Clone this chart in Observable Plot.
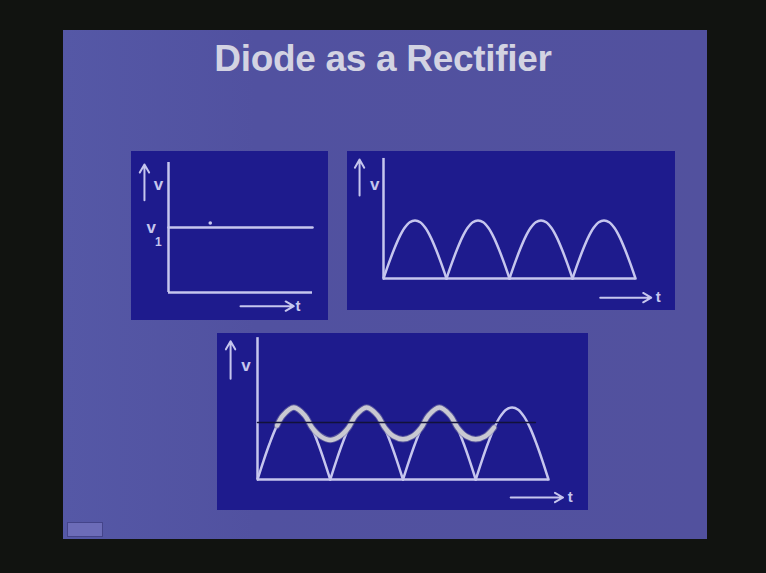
<!DOCTYPE html>
<html>
<head>
<meta charset="utf-8">
<script src="https://cdn.jsdelivr.net/npm/d3@7"></script>
<script src="https://cdn.jsdelivr.net/npm/@observablehq/plot@0.6"></script>
<style>
  html, body { margin: 0; padding: 0; background: #111310; }
  #stage { position: relative; width: 766px; height: 573px; background: #111310; overflow: hidden; font-family: "Liberation Sans", Arial, sans-serif; }
  #slide { position: absolute; left: 63px; top: 30px; width: 644px; height: 509px; background: linear-gradient(90deg, #5558a6 0%, #5151a0 30%, #52519e 100%); }
  #title { position: absolute; left: 0; width: 766px; top: 38px; text-align: center; font-weight: bold; font-size: 37px; color: #d3d3e2; letter-spacing: -0.3px; }
  .panel { position: absolute; }
  .panel svg { display: block; }
  #icon { position: absolute; left: 67px; top: 522px; width: 36px; height: 15px; background: #6c6cb8; border: 1px solid #44448a; box-sizing: border-box; }
</style>
</head>
<body>
<div id="stage">
  <div id="slide"></div>
  <div id="title">Diode as a Rectifier</div>
  <div id="p1" class="panel" style="left:131px;top:151px"></div>
  <div id="p2" class="panel" style="left:347px;top:151px"></div>
  <div id="p3" class="panel" style="left:217px;top:333px"></div>
  <div id="icon"></div>
</div>
<script>
// ---- data ----
// one rectified half-cycle, sampled at 1/12 steps of its width (value relative to peak)
const humpPhase = [0, 1/12, 2/12, 3/12, 4/12, 5/12, 6/12, 7/12, 8/12, 9/12, 10/12, 11/12, 1];
const humpShape = [0, 0.26, 0.5, 0.71, 0.87, 0.97, 1, 0.97, 0.87, 0.71, 0.5, 0.26, 0];
const halfCycles = [0, 1, 2, 3];
// constant DC level v1 (panel 1)
const dcT = [0, 1];
const dcV = [1, 1];
// filtered (capacitor) output with ripple (panel 3)
const rippleT = [0.27, 0.35, 0.5, 0.65, 0.75, 0.87, 1.0, 1.13, 1.25, 1.35, 1.5, 1.65, 1.75, 1.87, 2.0, 2.13, 2.25, 2.35, 2.5, 2.65, 2.75, 2.87, 3.0, 3.13, 3.25];
const rippleV = [0.75, 0.89, 1.0, 0.89, 0.72, 0.6, 0.55, 0.6, 0.72, 0.89, 1.0, 0.89, 0.72, 0.6, 0.56, 0.6, 0.72, 0.89, 1.0, 0.89, 0.72, 0.6, 0.56, 0.6, 0.72];
// average output level (dark line, panel 3)
const avgT = [0, 3.82];
const avgV = [0.79, 0.79];

// ---- tables ----
const humps = halfCycles.flatMap(k => humpPhase.map((p, i) => ({t: k + p, v: humpShape[i], k})));
const dc = dcT.map((t, i) => ({t, v: dcV[i]}));
const ripple = rippleT.map((t, i) => ({t, v: rippleV[i]}));
const avg = avgT.map((t, i) => ({t, v: avgV[i]}));

const LINE = "#c6c6ee";
const PANEL = "#1e1b8d";
const FONT = "Liberation Sans, Arial, sans-serif";

function axesMarks(o) {
  return [
    Plot.ruleX([0], {y1: 0, y2: o.yTop, stroke: LINE, strokeWidth: 2.5}),
    Plot.ruleY([0], {x1: 0, x2: o.xEnd, stroke: LINE, strokeWidth: 2.5}),
    Plot.arrow([0], {x1: o.vx, x2: o.vx, y1: o.vy1, y2: o.vy2, stroke: LINE, strokeWidth: 2, headLength: 7}),
    Plot.text(["v"], {x: o.vtx, y: o.vty, fill: LINE, fontSize: 17, fontWeight: "bold", fontFamily: FONT}),
    Plot.arrow([0], {x1: o.tx1, x2: o.tx2, y1: o.ty, y2: o.ty, stroke: LINE, strokeWidth: 2, headLength: 7}),
    Plot.text(["t"], {x: o.ttx, y: o.ty, fill: LINE, fontSize: 15, fontWeight: "bold", fontFamily: FONT})
  ];
}

// Panel 1: DC voltage v1
const p1 = Plot.plot({
  width: 197, height: 169, margin: 0,
  style: {background: PANEL, overflow: "visible"},
  x: {domain: [0, 1], range: [37, 181], axis: null},
  y: {domain: [0, 1], range: [141, 76], axis: null},
  marks: [
    ...axesMarks({yTop: 2.0, xEnd: 1, vx: -0.167, vy1: 1.42, vy2: 1.97, vtx: -0.07, vty: 1.66, tx1: 0.5, tx2: 0.87, ty: -0.21, ttx: 0.9}),
    Plot.line(dc, {x: "t", y: "v", stroke: LINE, strokeWidth: 2.5}),
    Plot.text(["v"], {x: -0.12, y: 1.0, fill: LINE, fontSize: 17, fontWeight: "bold", fontFamily: FONT}),
    Plot.text(["1"], {x: -0.07, y: 0.78, fill: LINE, fontSize: 12, fontWeight: "bold", fontFamily: FONT}),
    Plot.dot([0], {x: 0.29, y: 1.07, r: 1.8, fill: LINE})
  ]
});
document.getElementById("p1").append(p1);

// Panel 2: full-wave rectified output
const p2 = Plot.plot({
  width: 328, height: 159, margin: 0,
  style: {background: PANEL, overflow: "visible"},
  x: {domain: [0, 4], range: [36, 288], axis: null},
  y: {domain: [0, 1], range: [127, 69], axis: null},
  marks: [
    ...axesMarks({yTop: 2.07, xEnd: 4, vx: -0.38, vy1: 1.43, vy2: 2.05, vtx: -0.14, vty: 1.62, tx1: 3.44, tx2: 4.25, ty: -0.33, ttx: 4.36}),
    Plot.line(humps, {x: "t", y: "v", z: "k", stroke: LINE, strokeWidth: 2.5, curve: "catmull-rom"})
  ]
});
document.getElementById("p2").append(p2);

// Panel 3: rectified output with smoothing capacitor
const p3 = Plot.plot({
  width: 371, height: 177, margin: 0,
  style: {background: PANEL, overflow: "visible"},
  x: {domain: [0, 4], range: [40, 331], axis: null},
  y: {domain: [0, 1], range: [146, 74], axis: null},
  marks: [
    ...axesMarks({yTop: 1.97, xEnd: 4, vx: -0.37, vy1: 1.40, vy2: 1.92, vtx: -0.16, vty: 1.58, tx1: 3.48, tx2: 4.2, ty: -0.25, ttx: 4.3}),
    Plot.line(humps, {x: "t", y: "v", z: "k", stroke: LINE, strokeWidth: 2.5, curve: "catmull-rom"}),
    Plot.line(ripple, {x: "t", y: "v", stroke: "#7f7fa8", strokeWidth: 6.5, strokeOpacity: 0.6, curve: "catmull-rom"}),
    Plot.line(ripple, {x: "t", y: "v", stroke: "#c9c9d2", strokeWidth: 4.5, curve: "catmull-rom"}),
    Plot.line(avg, {x: "t", y: "v", stroke: "#12123a", strokeWidth: 1.5})
  ]
});
document.getElementById("p3").append(p3);
</script>
</body>
</html>
